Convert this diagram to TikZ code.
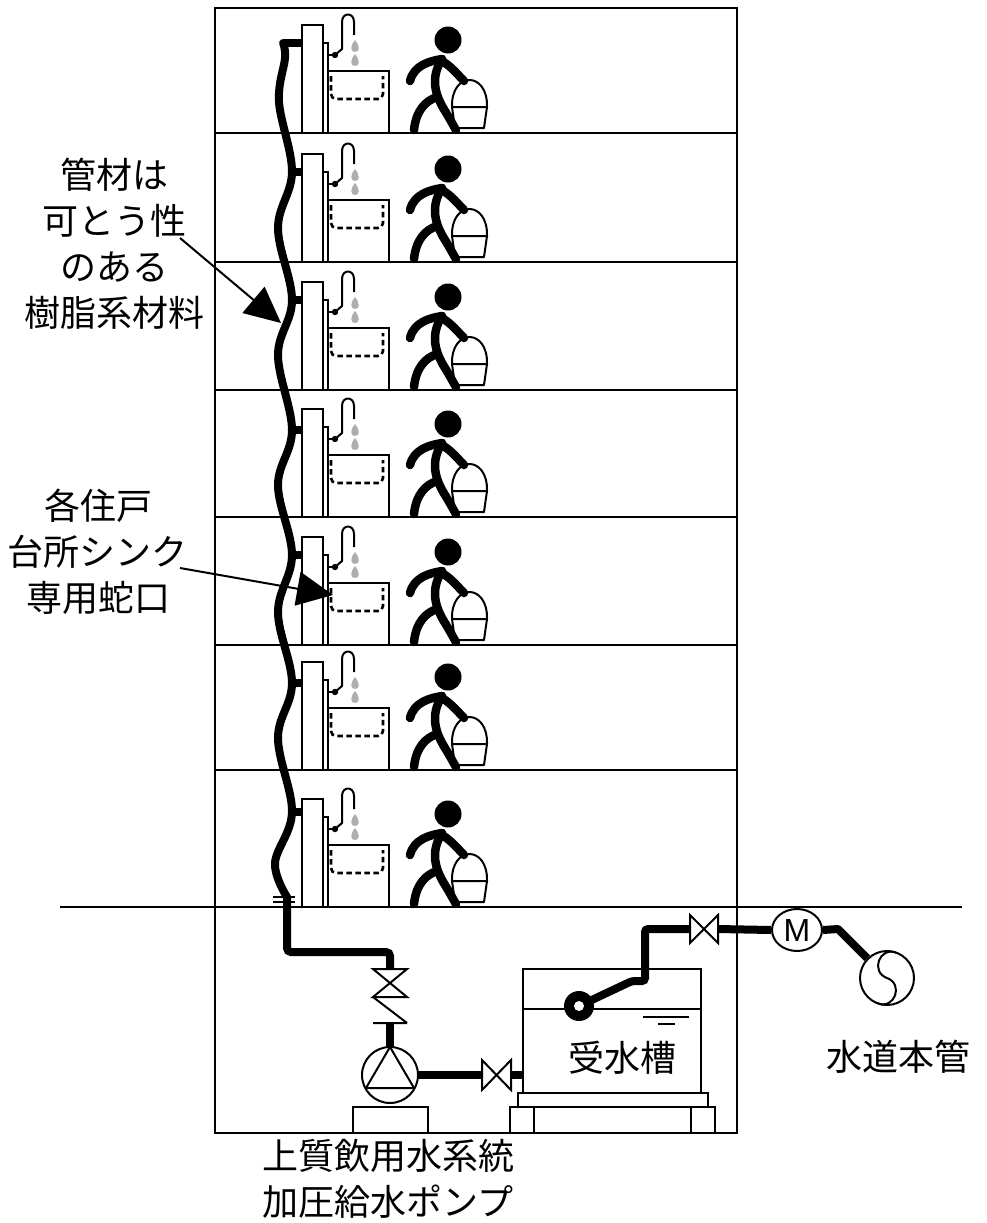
\documentclass[tikz,border=0pt]{standalone}
\usepackage{fontspec}
\setmainfont{Noto Sans CJK JP}
\newfontfamily\latinsf{Liberation Sans}
\usetikzlibrary{arrows.meta,shapes.geometric}
\definecolor{dropgray}{RGB}{175,175,175}
\begin{document}
\begin{tikzpicture}[x=1pt,y=-1pt,
  thinline/.style={line width=2pt},
  pipe/.style={line width=8pt},
  figure/.style={line width=8.5pt, line cap=round, line join=round},
  caption/.style={font=\fontsize{36}{46}\selectfont, align=center, inner sep=0pt},
  valve/.style={line width=2pt, fill=white, line join=miter},
  leader/.style={line width=2pt, -{Triangle[length=36pt,width=34pt]}},
]
\useasboundingbox (0,0) rectangle (986,1223);

% building outline, floor slabs and ground level
\draw[thinline] (215,8) rectangle (737,1133);
\foreach \y in {133,262,390,517,645,770} \draw[thinline] (215,\y) -- (737,\y);
\draw[thinline] (60,907) -- (962,907);

% kitchen sink with faucet and a resident carrying a bucket on every floor
\foreach \yb in {133,262,390,517,645,770,907} {
  % wall panel and sink counter
  \draw[thinline, fill=white] (302,\yb-108) rectangle (323,\yb);
  \draw[thinline] (323,\yb-90) -- (328,\yb-90) -- (328,\yb);
  \draw[thinline] (328,\yb-62) -- (389,\yb-62) -- (389,\yb);
  \draw[line width=2.6pt, dash pattern=on 5.5pt off 3.5pt, rounded corners=5pt]
    (331,\yb-57) -- (331,\yb-34) -- (383,\yb-34) -- (383,\yb-57);
  % faucet
  \draw[thinline] (328,\yb-78) -- (335,\yb-78);
  \draw[thinline, line join=round] (335,\yb-78) -- (342,\yb-84) -- (342,\yb-111)
    .. controls (342,\yb-121) and (354,\yb-121) .. (354,\yb-111) -- (354,\yb-98);
  \fill (335,\yb-78) circle[radius=3.2pt];
  % water drops
  \foreach \dy in {86,72}
    \fill[dropgray] (355,\yb-\dy-7) .. controls (360,\yb-\dy-1) and (360,\yb-\dy+5) .. (355,\yb-\dy+5)
      .. controls (350,\yb-\dy+5) and (350,\yb-\dy-1) .. (355,\yb-\dy-7);
  % resident
  \fill (448,\yb-93) circle[radius=13.5pt];
  \draw[figure] (442,\yb-74) .. controls (430,\yb-55) and (435,\yb-38) .. (445,\yb-22)
    .. controls (450,\yb-14) and (453,\yb-8) .. (456,\yb-3);
  \draw[figure] (442,\yb-74) .. controls (430,\yb-72) and (414,\yb-68) .. (410,\yb-52);
  \draw[figure] (442,\yb-72) .. controls (452,\yb-66) and (458,\yb-58) .. (464,\yb-52);
  \draw[figure] (437,\yb-36) .. controls (425,\yb-32) and (416,\yb-22) .. (414,\yb-3);
  % bucket
  \draw[thinline, line join=round] (452,\yb-26) .. controls (451,\yb-62) and (488,\yb-62) .. (487,\yb-26) -- cycle;
  \draw[thinline, line join=round] (452,\yb-26) -- (455,\yb-5) -- (484,\yb-5) -- (487,\yb-26);
}

% flexible riser
\draw[pipe, line cap=round] plot[smooth, tension=0.6] coordinates {
  (283,43) (285,58) (279,102) (292,172) (278,228) (292,300) (278,355) (292,430)
  (278,485) (292,555) (278,612) (292,683) (278,738) (292,812) (275,863) (287,897)};
\draw[pipe, line cap=round, rounded corners=4pt] (287,897) -- (287,952) -- (390,952) -- (390,969);
\foreach \y/\x in {43/283, 172/290, 300/290, 430/290, 555/290, 683/290, 812/290}
  \draw[pipe] (\x,\y) -- (302,\y);
% flexible joint at the slab
\draw[thinline] (273,896.5) -- (295,896.5) (273,901.5) -- (295,901.5);

% gate valve and check valve above the pump
\draw[valve] (373,969) -- (407,969) -- (373,997) -- (407,997) -- cycle;
\draw[thinline] (373,997) -- (407,1023) (373,1023) -- (407,1023);

% booster pump
\node[circle, draw, line width=2pt, minimum size=56pt, inner sep=0pt] (pump) at (390,1075) {};
\draw[pipe] (390,1023) -- (pump.north);
\draw[thinline, line join=round] (390,1047) -- (366,1088) -- (414,1088) -- cycle;
\draw[thinline] (353,1107) rectangle (428,1133);
\draw[pipe] (pump.east) -- (482,1075);
\draw[valve] (482,1060) -- (482,1090) -- (511,1060) -- (511,1090) -- cycle;
\draw[pipe] (511,1075) -- (523,1075);

% receiving tank
\draw[thinline] (523,969) rectangle (701,1093);
\draw[thinline] (523,1009) -- (701,1009);
\draw[thinline] (643,1017) -- (689,1017) (658,1024) -- (675,1024);
\draw[thinline] (518,1093) rectangle (708,1107);
\draw[thinline] (510,1107) rectangle (715,1133);
\draw[thinline] (534,1107) -- (534,1133) (691,1107) -- (691,1133);
\node[caption] (tank) at (622,1058) {受水槽};

% inlet with ball tap
\coordinate (ballc) at (579,1006);
\draw[pipe, rounded corners=3pt] (ballc) -- (632,981) -- (645,981) -- (645,929) -- (690,929);
\node[circle, fill=black, minimum size=30pt, inner sep=0pt] (ball) at (ballc) {};
\fill[white] (ball.center) circle[radius=5pt];
\draw[valve] (690,915) -- (690,943) -- (718,915) -- (718,943) -- cycle;

% water meter and city main
\node[ellipse, draw, line width=2pt, fill=white, minimum width=50pt, minimum height=42pt,
  inner sep=0pt, font=\latinsf\fontsize{32}{32}\selectfont] (meter) at (797,930) {M};
\draw[pipe] (718,929) -- (meter.west);
\node[circle, draw, line width=2pt, minimum size=54pt, inner sep=0pt] (main) at (887,978) {};
\draw[pipe, line join=round] (meter.east) -- (838,929) -- (main);
\draw[thinline] (896.2,952.6) .. controls (879.3,946.4) and (870.1,971.8) .. (887,978)
  .. controls (903.9,984.2) and (894.7,1009.6) .. (877.8,1003.4);
\node[caption] (mainnote) at (898,1057) {水道本管};

% notes
\node[caption] (pipenote) at (114,244) {管材は\\可とう性\\のある\\樹脂系材料};
\node[caption] (sinknote) at (98,552) {各住戸\\台所シンク\\専用蛇口};
\node[caption] (pumpnote) at (388,1179) {上質飲用水系統\\加圧給水ポンプ};
\coordinate (pipefrom) at (180,238);
\coordinate (pipetip) at (281,323);
\coordinate (sinkfrom) at (180,568);
\coordinate (sinktip) at (333,595);
\draw[leader] (pipefrom) -- (pipetip);
\draw[leader] (sinkfrom) -- (sinktip);
\end{tikzpicture}
\end{document}
